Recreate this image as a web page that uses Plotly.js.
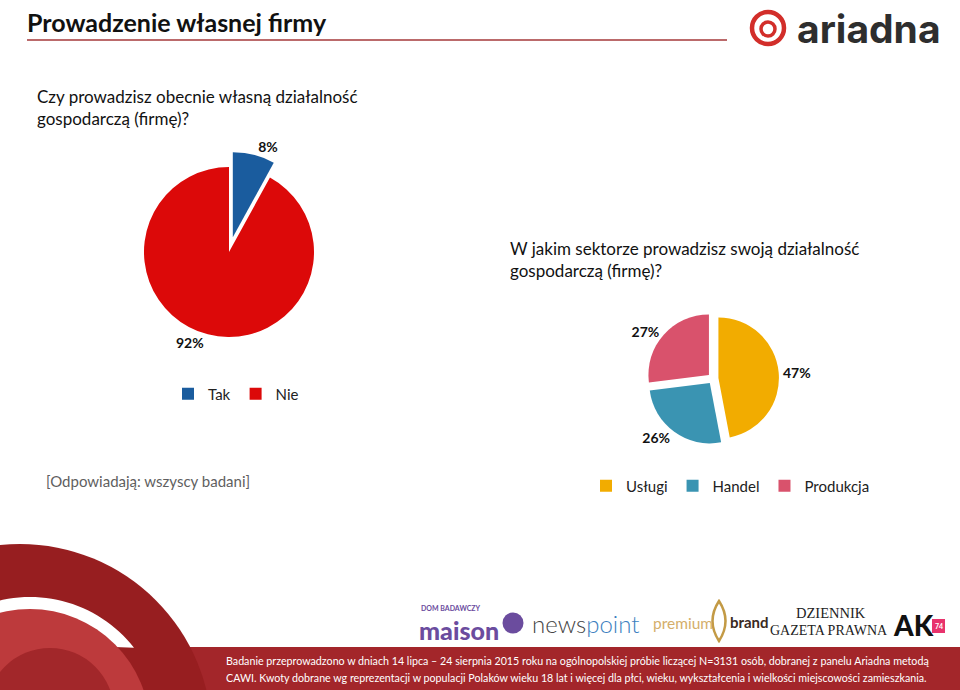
<!DOCTYPE html>
<html><head><meta charset="utf-8">
<script src="https://cdn.plot.ly/plotly-3.0.1.min.js"></script>
<style>html,body{margin:0;padding:0;background:#fff;}#chart{width:960px;height:690px;}</style>
</head><body><div id="chart"></div>
<script>
// ---- data ----
const ownBusinessLabels = ['Tak', 'Nie'];
const ownBusinessValues = [8, 92];
const sectorLabels = ['Usługi', 'Handel', 'Produkcja'];
const sectorValues = [47, 26, 27];

// ---- texts ----
const pageTitle = 'Prowadzenie własnej firmy';
const question1 = 'Czy prowadzisz obecnie własną działalność<br>gospodarczą (firmę)?';
const question2 = 'W jakim sektorze prowadzisz swoją działalność<br>gospodarczą (firmę)?';
const baseNote = '[Odpowiadają: wszyscy badani]';
const footerLines = [
  'Badanie przeprowadzono w dniach 14 lipca – 24 sierpnia 2015 roku na ogólnopolskiej próbie liczącej N=3131 osób, dobranej z panelu Ariadna metodą',
  'CAWI. Kwoty dobrane wg reprezentacji w populacji Polaków wieku 18 lat i więcej dla płci, wieku, wykształcenia i wielkości miejscowości zamieszkania.'
];

const W = 960, H = 690;
const px = x => x / W;
const py = y => 1 - y / H;
const FONT = 'Lato, "Open Sans", sans-serif';

function circle(cx, cy, r, fill, line) {
  return {type:'circle', xref:'paper', yref:'paper', layer:'below',
    x0:px(cx-r), x1:px(cx+r), y0:py(cy+r), y1:py(cy-r),
    fillcolor: fill || 'rgba(0,0,0,0)', line: line || {width:0}};
}
function ringSector(cx, cy, rOut, rIn, a0, a1, fill) {
  const pts = [];
  const n = 60;
  for (let i = 0; i <= n; i++) { const a = (a0 + (a1-a0)*i/n) * Math.PI/180; pts.push([cx + rOut*Math.cos(a), cy - rOut*Math.sin(a)]); }
  for (let i = n; i >= 0; i--) { const a = (a0 + 6 + (a1-a0-6)*i/n) * Math.PI/180; pts.push([cx + rIn*Math.cos(a), cy - rIn*Math.sin(a)]); }
  const d = 'M ' + pts.map(p => px(p[0]).toFixed(5) + ',' + py(p[1]).toFixed(5)).join(' L ') + ' Z';
  return {type:'path', xref:'paper', yref:'paper', layer:'below', path:d, fillcolor:fill, line:{width:0}};
}

const pull1 = [0.18, 0];
const r1 = 85, c1 = [229, 252];
const box1 = r1 * (1 + Math.max(...pull1));
const pull2 = [0.09, 0.09, 0.09];
const r2 = 60.5, c2 = [713, 378.5];
const box2 = r2 * (1 + Math.max(...pull2));

const traces = [
  {type:'pie', labels: ownBusinessLabels, values: ownBusinessValues, sort:false,
   direction:'clockwise', rotation:0, pull: pull1,
   marker:{colors:['#1A5C9E', '#DC0909'], line:{width:0}},
   texttemplate:'%{value}%', textposition:'outside',
   outsidetextfont:{family:FONT, size:14, color:'#111', weight:'bold'},
   hoverinfo:'none', legend:'legend',
   domain:{x:[px(c1[0]-box1), px(c1[0]+box1)], y:[py(c1[1]+box1), py(c1[1]-box1)]}},
  {type:'pie', labels: sectorLabels, values: sectorValues, sort:false,
   direction:'clockwise', rotation:0, pull: pull2,
   marker:{colors:['#F2AC00', '#3A94B2', '#D9526C'], line:{width:0}},
   texttemplate:'%{value}%', textposition:'outside',
   outsidetextfont:{family:FONT, size:14, color:'#111', weight:'bold'},
   hoverinfo:'none', legend:'legend2',
   domain:{x:[px(c2[0]-box2), px(c2[0]+box2)], y:[py(c2[1]+box2), py(c2[1]-box2)]}}
];

const shapes = [
  // footer band
  {type:'rect', xref:'paper', yref:'paper', layer:'below', x0:px(150), x1:px(960), y0:py(690), y1:py(647), fillcolor:'#A3262A', line:{width:0}},
  // decorative circles
  circle(20, 736, 192, '#971E20'),
  ringSector(30, 729, 132, 118, 38, 180, '#FFFFFF'),
  circle(30, 729, 120, '#BD3A3C'),
  circle(50, 712, 64, '#A2272A'),
  // title underline
  {type:'line', xref:'paper', yref:'paper', x0:px(27), x1:px(727), y0:py(40), y1:py(40), line:{color:'#A5393A', width:1.5}},
  // ariadna logo icon
  circle(768, 28, 16, null, {color:'#D22E2A', width:4.5}),
  circle(768, 29, 7, null, {color:'#D22E2A', width:3.5}),
  // maison icon
  circle(513, 623, 10.5, '#6B4C9E'),
  // premium brand bracket
  {type:'path', xref:'paper', yref:'paper', layer:'below',
   path:`M ${px(719)},${py(601)} Q ${px(706)},${py(621)} ${px(719)},${py(641)} Q ${px(732)},${py(621)} ${px(719)},${py(601)} Z`,
   fillcolor:'rgba(0,0,0,0)', line:{color:'#C39A45', width:2.5}},
  // AK74 pink box
  {type:'rect', xref:'paper', yref:'paper', layer:'below', x0:px(932), x1:px(945), y0:py(633), y1:py(619), fillcolor:'#E8336D', line:{width:0}}
];

function ann(text, x, y, font, xanchor, yanchor) {
  return {text, xref:'paper', yref:'paper', x:px(x), y:py(y), showarrow:false,
    xanchor: xanchor || 'left', yanchor: yanchor || 'middle', align:'left', font};
}

const annotations = [
  ann(pageTitle, 25, 22, {family:FONT, size:25, color:'#111', weight:'bold'}),
  ann(question1, 35, 107, {family:FONT, size:17, color:'#111'}),
  ann(question2, 508, 259, {family:FONT, size:17, color:'#111'}),
  ann(baseNote, 44, 481, {family:FONT, size:15, color:'#5f5f5f'}),
  ann('ariadna', 795, 28, {family:'Inter, sans-serif', size:39, color:'#2E2E2E', weight:'bold'}),
  ann('DOM BADAWCZY', 419, 608, {family:FONT, size:7, color:'#6B4C9E', weight:'bold'}),
  ann('maison', 417, 630, {family:FONT, size:25, color:'#6B4C9E', weight:900}),
  ann('news<span style="color:#3C7FC0">point</span>', 530, 623, {family:FONT, size:24, color:'#444', weight:300}),
  ann('premium', 651, 623, {family:FONT, size:15.5, color:'#D4AE6A'}),
  ann('brand', 728, 622, {family:FONT, size:15, color:'#3A2A1E', weight:'bold'}),
  ann('DZIENNIK', 831, 613, {family:'"Liberation Serif", serif', size:14.5, color:'#222'}, 'center'),
  ann('GAZETA PRAWNA', 829, 630, {family:'"Liberation Serif", serif', size:14, color:'#222'}, 'center'),
  ann('AK', 891, 625, {family:FONT, size:28, color:'#111', weight:900}),
  ann('74', 938.5, 626, {family:FONT, size:7, color:'#fff', weight:'bold'}, 'center'),
  ann(footerLines[0], 224, 660, {family:FONT, size:10.7, color:'#fff'}),
  ann(footerLines[1], 224, 677, {family:FONT, size:10.7, color:'#fff'})
];

const legendBase = {orientation:'h', xanchor:'left', yanchor:'middle', bgcolor:'rgba(0,0,0,0)',
  font:{family:FONT, size:15, color:'#222'}, itemwidth:30, tracegroupgap:0};

const layout = {
  width: W, height: H, margin:{l:0, r:0, t:0, b:0},
  paper_bgcolor:'#fff', plot_bgcolor:'#fff', showlegend:true,
  legend: Object.assign({}, legendBase, {x:px(168), y:py(394)}),
  legend2: Object.assign({}, legendBase, {x:px(586), y:py(486)}),
  shapes, annotations
};

Plotly.newPlot('chart', traces, layout, {displayModeBar:false, staticPlot:true});
</script></body></html>
